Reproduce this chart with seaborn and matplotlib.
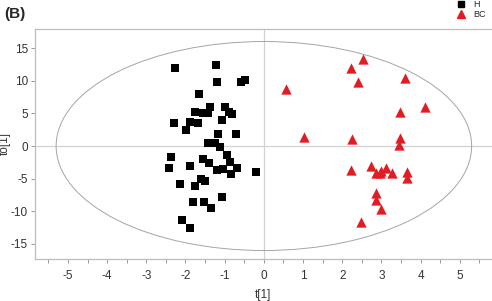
import matplotlib
matplotlib.use('Agg')
import matplotlib.pyplot as plt
from matplotlib.patches import Ellipse
from matplotlib.ticker import MultipleLocator
import pandas as pd
import seaborn as sns

sns.set_style('white')
plt.rcParams['font.family'] = ['Liberation Sans', 'DejaVu Sans']
plt.rcParams['axes.unicode_minus'] = False

# scores
h_t1 = [-2.27, -1.21, -1.19, -0.59, -0.48, -1.66, -1.38, -1.77, -1.55, -1.42,
        -0.98, -0.88, -0.82, -1.06, -2.30, -1.89, -1.69, -1.99, -1.17, -0.71,
        -1.42, -1.25, -1.12, -0.95, -0.87, -2.38, -2.42, -1.89, -1.56, -1.40,
        -1.19, -1.04, -0.68, -0.84, -0.20, -2.13, -1.76, -1.61, -1.51, -1.08,
        -1.82, -1.53, -1.36, -2.10, -1.89]
h_to1 = [11.9, 12.4, 9.85, 9.85, 10.06, 8.0, 5.9, 5.15, 5.1, 5.0,
         5.9, 5.15, 4.85, 4.0, 3.6, 3.7, 3.6, 2.5, 1.8, 1.9,
         0.4, 0.4, -0.2, -1.4, -2.4, -1.7, -3.4, -3.1, -2.0, -2.6,
         -3.7, -3.5, -3.3, -4.3, -4.0, -5.8, -6.1, -5.05, -5.3, -7.8,
         -8.5, -8.6, -9.5, -11.4, -12.6]

bc_t1 = [2.53, 2.22, 2.41, 3.60, 0.57, 4.11, 3.47, 1.03, 2.25, 3.47,
         3.45, 2.21, 2.73, 2.85, 3.00, 3.11, 3.27, 3.66, 3.66, 2.87,
         2.87, 3.00, 2.49, 2.95]
bc_to1 = [13.4, 11.9, 9.85, 10.4, 8.7, 6.0, 5.25, 1.4, 1.1, 1.2,
          0.1, -3.7, -3.05, -4.2, -3.9, -3.3, -4.2, -4.0, -4.95, -7.25,
          -8.2, -9.7, -11.6, -4.1]

df = pd.DataFrame({
    't1': h_t1 + bc_t1,
    'to1': h_to1 + bc_to1,
    'group': ['H'] * len(h_t1) + ['BC'] * len(bc_t1),
})

fig = plt.figure(figsize=(4.92, 3.01), dpi=100)
ax = fig.add_axes([0.0711, 0.1395, 0.9289, 0.7642])

ax.axhline(0, color='#d2d2d2', lw=0.9, zorder=0)
ax.axvline(0, color='#d2d2d2', lw=0.9, zorder=0)
ax.add_patch(Ellipse((0, 0), 2 * 5.3, 2 * 16.0, fill=False, ec='#a5a5a5', lw=0.7, zorder=1))

sns.scatterplot(data=df[df.group == 'H'], x='t1', y='to1', ax=ax, marker='s', color='black',
                s=30, linewidth=0, zorder=3, legend=False)
sns.scatterplot(data=df[df.group == 'BC'], x='t1', y='to1', ax=ax, marker='^', color='#e31b23',
                s=55, linewidth=0, zorder=3, legend=False)

ax.set_xlim(-5.84, 5.82)
ax.set_ylim(-17.3, 17.92)
ax.xaxis.set_major_locator(MultipleLocator(1))
ax.xaxis.set_minor_locator(MultipleLocator(0.5))
ax.yaxis.set_major_locator(MultipleLocator(5))
ax.tick_params(which='both', direction='out', length=3, width=0.7, color='#9a9a9a',
               labelsize=8.5, labelcolor='#333333', bottom=True, left=True)
ax.tick_params(axis='x', pad=5)
ax.tick_params(axis='y', pad=2)
for side in ['left', 'bottom', 'top']:
    ax.spines[side].set_color('#bdbdbd')
    ax.spines[side].set_linewidth(0.9)
ax.spines['right'].set_visible(False)

ax.set_xlabel('t[1]', fontsize=8.5, color='#333333', labelpad=5)
ax.set_ylabel('to[1]', fontsize=8.5, color='#333333')
ax.yaxis.set_label_coords(-0.052, 0.5)

fig.text(0.008, 0.955, '(B)', fontsize=11, fontweight='bold', va='center', ha='left')

# legend in the top right corner, outside the axes
fig.legend(handles=[plt.Line2D([], [], ls='', marker='s', color='black', ms=5),
                    plt.Line2D([], [], ls='', marker='^', color='#e31b23', ms=6)],
           labels=['H', 'BC'], loc='upper right', bbox_to_anchor=(1.0, 1.02), frameon=False,
           fontsize=6.5, handlelength=1, handletextpad=0.8, labelspacing=0.05, borderpad=0.2)

fig.savefig('out.png', dpi=100)
